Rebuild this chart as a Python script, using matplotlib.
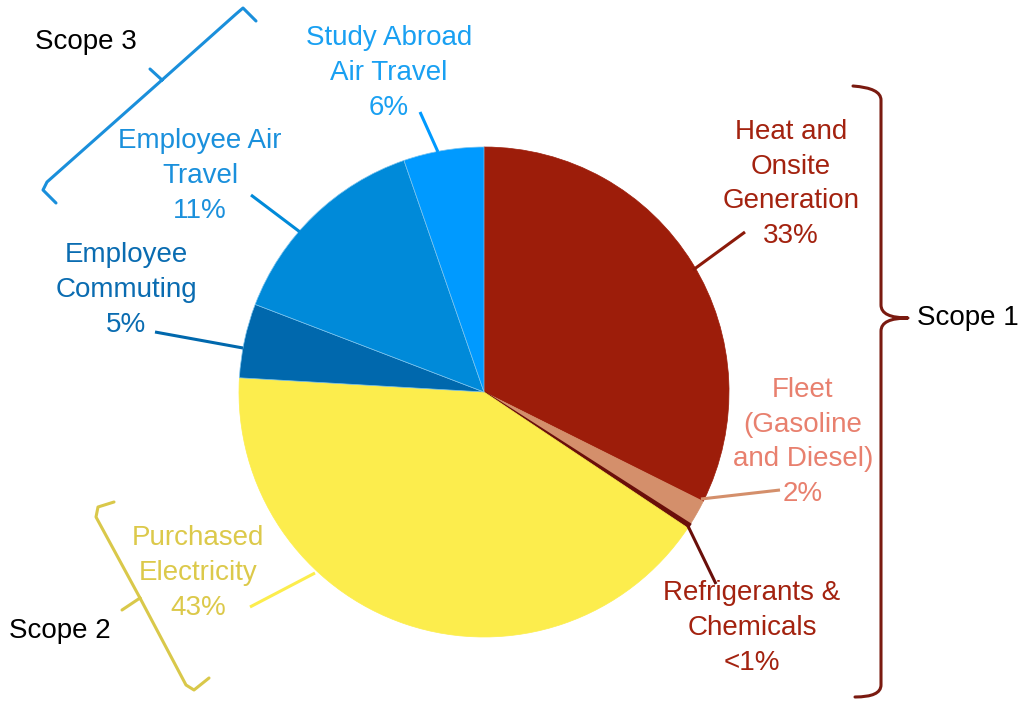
import matplotlib.pyplot as plt
from matplotlib.path import Path
from matplotlib.patches import PathPatch

plt.rcParams['font.family'] = ['Liberation Sans', 'DejaVu Sans']

# slice shares as drawn (clockwise from 12 o'clock)
categories = ['Heat and Onsite Generation', 'Fleet (Gasoline and Diesel)',
              'Refrigerants & Chemicals', 'Purchased Electricity',
              'Employee Commuting', 'Employee Air Travel', 'Study Abroad Air Travel']
shares = [32.4, 1.7, 0.3, 41.6, 4.9, 13.9, 5.3]
label_texts = ['Heat and\nOnsite\nGeneration\n33%', 'Fleet\n(Gasoline\nand Diesel)\n2%',
               'Refrigerants &\nChemicals\n<1%', 'Purchased\nElectricity\n43%',
               'Employee\nCommuting\n5%', 'Employee Air\nTravel\n11%',
               'Study Abroad\nAir Travel\n6%']
slice_colors = ['#9d1d0a', '#d48f6b', '#6a0f0a', '#fced4d', '#0068ad', '#008ad9', '#009aff']
text_colors = ['#a3220f', '#e8806e', '#a3220f', '#dcc94a', '#0a6cb1', '#1a90dc', '#19a0f2']
leader_colors = ['#8c1a0a', '#d48f6b', '#6a0f0a', '#fced4d', '#0068ad', '#008ad9', '#009aff']

label_pos = [(791, 184), (803, 442), (752, 628), (198, 573), (126, 290), (200, 176), (389, 73)]
leaders = [((745, 232), (693, 270)), ((780, 490), (701, 499)), ((716, 584), (687, 524)),
           ((250, 607), (315, 573)), ((155, 332), (243, 348)), ((251, 195), (300, 232)),
           ((420, 112), (438, 152))]

fig = plt.figure(figsize=(10.22, 7.02), dpi=100)
ax = fig.add_axes([0, 0, 1, 1])

wedges, _ = ax.pie(shares, colors=slice_colors, startangle=-90, counterclock=True,
                   center=(484, 392), radius=245,
                   wedgeprops=dict(linewidth=0.5, edgecolor='#7cc4ee'))
for w, c in zip(wedges[:4], slice_colors[:4]):
    w.set_edgecolor(c)
wedges[2].set_linewidth(1.5)

ax.set_xlim(0, 1022)
ax.set_ylim(702, 0)
ax.set_aspect('auto')
ax.axis('off')

for txt, (x, y), c in zip(label_texts, label_pos, text_colors):
    ax.text(x, y, txt, color=c, fontsize=20, ha='center', va='center',
            multialignment='center', linespacing=1.43)

for ((x0, y0), (x1, y1)), c in zip(leaders, leader_colors):
    ax.plot([x0, x1], [y0, y1], color=c, lw=2.2, solid_capstyle='butt')


def brace(verts, codes, color):
    ax.add_patch(PathPatch(Path(verts, codes), fill=False, edgecolor=color, lw=2.2,
                           capstyle='round', joinstyle='round'))


M, L, C = Path.MOVETO, Path.LINETO, Path.CURVE3
# scope 1 (right)
brace([(853, 86), (881, 88), (881, 100), (881, 305), (881, 318), (908, 318),
       (881, 318), (881, 331), (881, 685), (881, 697), (855, 697)],
      [M, C, C, L, C, C, C, C, L, C, C], '#7a1a10')
# scope 3 (top left, diagonal)
brace([(256, 21), (243, 8), (236, 14), (162, 80), (150, 69), (162, 80), (47, 182),
       (43, 190), (56, 203)],
      [M, L, L, L, L, M, L, L, L], '#1a8fdb')
# scope 2 (bottom left)
brace([(114, 502), (98, 507), (96, 517), (140, 598), (122, 610), (140, 598),
       (186, 685), (194, 690), (209, 678)],
      [M, L, L, L, L, M, L, L, L], '#d9c84a')

ax.text(86, 42, 'Scope 3', fontsize=20, ha='center', va='center', color='black')
ax.text(968, 318, 'Scope 1', fontsize=20, ha='center', va='center', color='black')
ax.text(60, 631, 'Scope 2', fontsize=20, ha='center', va='center', color='black')

fig.savefig('out.png', dpi=100)
